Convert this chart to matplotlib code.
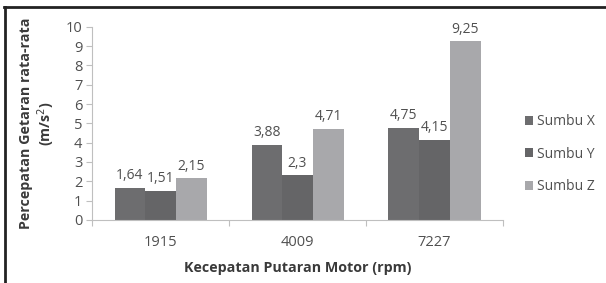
import numpy as np
import matplotlib.pyplot as plt

plt.rcParams['font.family'] = ['Open Sans', 'DejaVu Sans']

speeds = ['1915', '4009', '7227']
series = ['Sumbu X', 'Sumbu Y', 'Sumbu Z']
sumbu_x = [1.64, 3.88, 4.75]
sumbu_y = [1.51, 2.30, 4.15]
sumbu_z = [2.15, 4.71, 9.25]
labels_x = ['1,64', '3,88', '4,75']
labels_y = ['1,51', '2,3', '4,15']
labels_z = ['2,15', '4,71', '9,25']

colors = ['#6d6d6f', '#656567', '#a8a8ab']
text_col = '#505050'

fig = plt.figure(figsize=(6.06, 2.83), dpi=100)
ax = fig.add_axes([0.152, 0.223, 0.678, 0.682])

x = np.arange(len(speeds))
w = 0.224
for i, (vals, labs) in enumerate(zip([sumbu_x, sumbu_y, sumbu_z],
                                     [labels_x, labels_y, labels_z])):
	pos = x + (i - 1) * w
	bars = ax.bar(pos, vals, width=w, color=colors[i], label=series[i])
	for b, v, t in zip(bars, vals, labs):
		ax.text(b.get_x() + b.get_width() / 2, v + 0.25, t, ha='center', va='bottom',
		        fontsize=10, color=text_col)

ax.set_xlim(-0.5, 2.5)
ax.set_ylim(0, 10)
ax.set_yticks(range(0, 11))
ax.set_xticks([-0.5, 0.5, 1.5, 2.5])
ax.set_xticklabels([])
ax.set_xticks(x, minor=True)
ax.set_xticklabels(speeds, minor=True)
ax.tick_params(axis='x', which='minor', length=0, pad=11, labelsize=10.5, labelcolor=text_col)
ax.tick_params(axis='x', which='major', length=4, color='#bfbfbf', direction='out')
ax.tick_params(axis='y', length=4, color='#bfbfbf', labelsize=10.5, labelcolor=text_col, pad=3)

for s in ['top', 'right']:
	ax.spines[s].set_visible(False)
for s in ['left', 'bottom']:
	ax.spines[s].set_color('#bfbfbf')

ax.set_xlabel('Kecepatan Putaran Motor (rpm)', fontsize=10.3, fontweight='bold', color='#3a3a3a', labelpad=8)
ax.set_ylabel('Percepatan Getaran rata-rata\n(m/s$^2$)', fontsize=10.3, fontweight='bold', color='#3a3a3a', labelpad=6, linespacing=1.2)

leg = fig.legend(loc='center left', bbox_to_anchor=(0.845, 0.455), frameon=False,
                 fontsize=10, handlelength=0.6, handleheight=0.6, handletextpad=0.3,
                 labelspacing=1.25, labelcolor=text_col)

# outer frame lines (top and left)
fig.add_artist(plt.Line2D([0.007, 1.0], [0.975, 0.975], transform=fig.transFigure, color='#222222', lw=2))
fig.add_artist(plt.Line2D([0.008, 0.008], [0.0, 0.975], transform=fig.transFigure, color='#222222', lw=2))

fig.savefig('out.png', dpi=100)
